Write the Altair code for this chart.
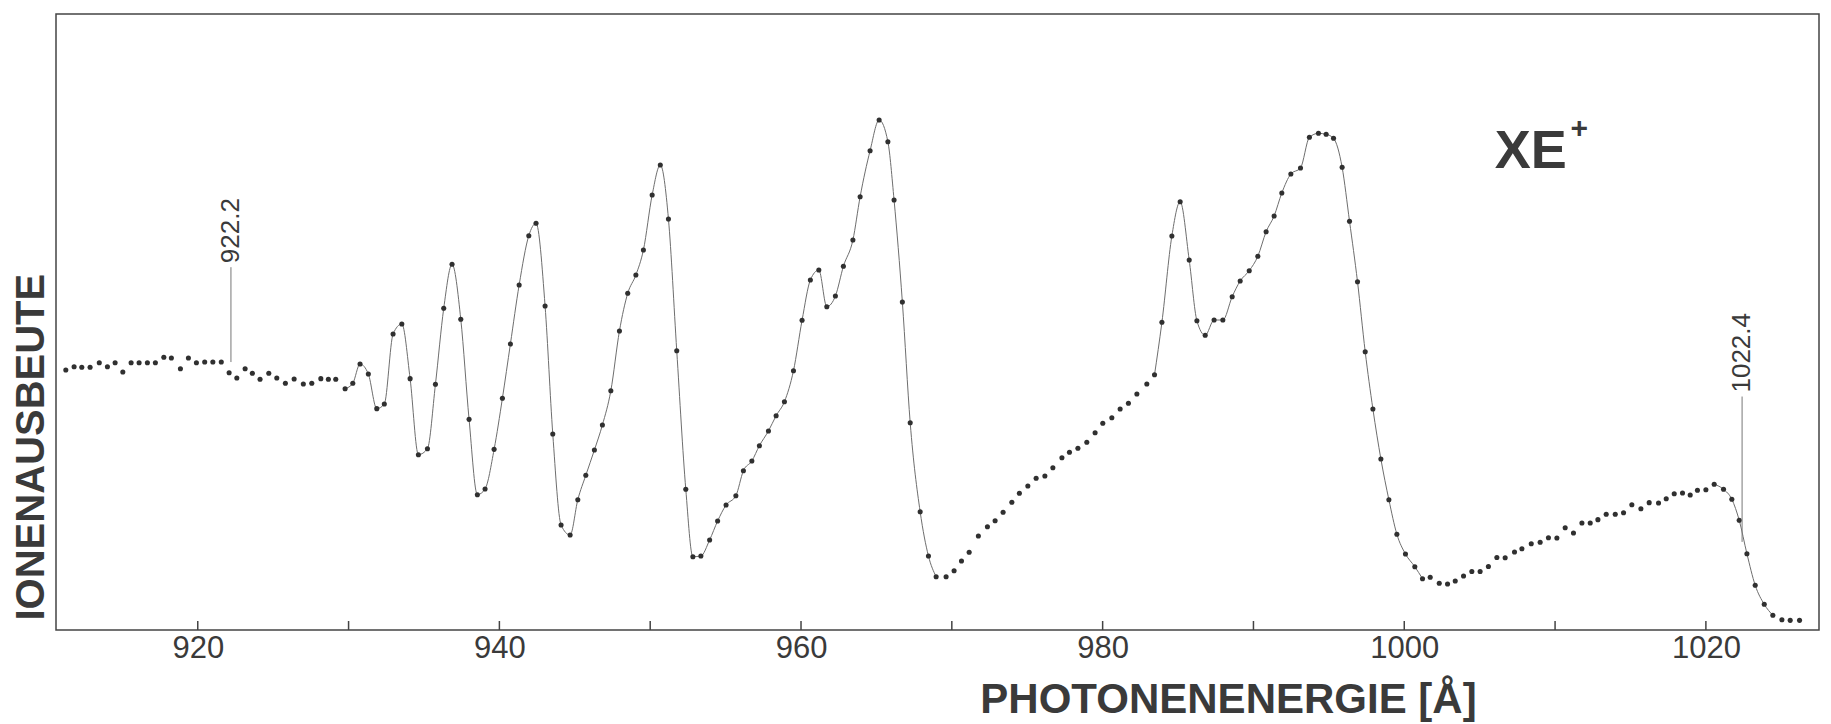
import altair as alt
import pandas as pd

wavelength = [
    911.25, 911.80, 912.31, 912.86, 913.47, 914.01, 914.52, 915.03, 915.58, 916.11,
    916.66, 917.19, 917.75, 918.25, 918.85, 919.38, 919.91, 920.46, 921.00, 921.56,
    922.08, 922.59, 923.14, 923.62, 924.13, 924.71, 925.24, 925.81, 926.39, 927.00,
    927.56, 928.16, 928.66, 929.15, 929.77, 930.28, 930.76, 931.31, 931.87, 932.37,
    932.95, 933.53, 934.08, 934.63, 935.23, 935.76, 936.31, 936.86, 937.44, 937.99,
    938.54, 939.05, 939.65, 940.20, 940.73, 941.31, 941.95, 942.43, 943.03, 943.54,
    944.09, 944.69, 945.20, 945.73, 946.30, 946.83, 947.39, 947.96, 948.51, 949.05,
    949.55, 950.13, 950.67, 951.21, 951.76, 952.36, 952.83, 953.36, 953.94, 954.47,
    955.03, 955.68, 956.18, 956.74, 957.24, 957.84, 958.35, 958.90, 959.50, 960.07,
    960.62, 961.18, 961.71, 962.28, 962.81, 963.44, 963.92, 964.58, 965.18, 965.76,
    966.17, 966.72, 967.24, 967.90, 968.45, 968.96, 969.62, 970.15, 970.64, 971.15,
    971.76, 972.36, 972.87, 973.40, 973.98, 974.48, 975.04, 975.59, 976.17, 976.70,
    977.30, 977.80, 978.36, 978.95, 979.50, 980.01, 980.61, 981.16, 981.71, 982.27,
    982.93, 983.44, 983.93, 984.59, 985.14, 985.74, 986.25, 986.80, 987.39, 987.97,
    988.59, 989.12, 989.72, 990.29, 990.84, 991.37, 991.88, 992.48, 993.12, 993.71,
    994.31, 994.82, 995.31, 995.88, 996.37, 996.90, 997.41, 997.92, 998.45, 998.98,
    999.51, 1000.08, 1000.70, 1001.21, 1001.72, 1002.32, 1002.87, 1003.38, 1003.93, 1004.48,
    1005.03, 1005.58, 1006.14, 1006.69, 1007.31, 1007.80, 1008.42, 1009.01, 1009.56, 1010.12,
    1010.67, 1011.22, 1011.78, 1012.33, 1012.84, 1013.39, 1013.99, 1014.54, 1015.09, 1015.69,
    1016.24, 1016.86, 1017.37, 1017.90, 1018.45, 1018.96, 1019.44, 1020.00, 1020.55, 1021.17,
    1021.72, 1022.21, 1022.72, 1023.27, 1023.87, 1024.44, 1025.04, 1025.59, 1026.21,
]

# Ion yield (arbitrary units, 0-100 of the frame height)
ion_yield = [
    42.21, 42.74, 42.65, 42.65, 43.39, 42.74, 43.39, 41.88, 43.39, 43.39,
    43.39, 43.39, 44.27, 44.16, 42.42, 44.16, 43.39, 43.51, 43.51, 43.51,
    41.77, 40.91, 42.42, 41.67, 40.70, 41.67, 40.91, 40.05, 40.75, 39.94,
    40.05, 40.80, 40.70, 40.70, 39.17, 40.05, 43.18, 41.56, 35.93, 36.69,
    48.05, 49.68, 40.80, 28.46, 29.43, 39.89, 52.22, 59.37, 50.44, 34.20,
    21.96, 22.89, 29.33, 37.61, 46.43, 56.01, 64.01, 66.02, 52.60, 31.82,
    17.05, 15.42, 21.15, 25.11, 29.22, 33.28, 38.85, 48.54, 54.66, 57.63,
    61.69, 70.62, 75.49, 66.72, 45.34, 22.84, 11.90, 12.01, 14.61, 17.69,
    20.29, 21.80, 25.86, 27.44, 29.92, 32.31, 34.79, 37.06, 42.09, 50.28,
    56.82, 58.44, 52.48, 54.22, 59.04, 63.31, 70.34, 77.81, 82.79, 79.27,
    69.81, 53.25, 33.65, 19.20, 12.01, 8.65, 8.65, 9.63, 11.20, 12.61,
    15.26, 16.77, 17.74, 19.11, 20.73, 22.19, 23.38, 24.63, 25.00, 26.35,
    27.97, 28.85, 29.50, 30.47, 32.03, 33.56, 34.46, 35.88, 36.80, 38.31,
    39.94, 41.44, 49.95, 63.96, 69.53, 60.06, 50.21, 47.84, 50.32, 50.32,
    54.11, 56.66, 58.33, 60.67, 64.66, 67.21, 70.94, 74.03, 75.00, 79.98,
    80.63, 80.47, 79.82, 75.11, 66.35, 56.54, 45.18, 35.88, 27.76, 21.15,
    15.54, 12.34, 10.28, 8.33, 8.56, 7.58, 7.47, 7.95, 8.77, 9.50,
    9.50, 10.31, 11.77, 11.74, 12.66, 13.20, 14.01, 14.24, 14.98, 14.94,
    16.61, 15.75, 17.37, 17.37, 17.91, 18.78, 18.78, 19.04, 20.34, 19.69,
    20.67, 20.62, 21.31, 22.13, 22.24, 21.92, 22.68, 22.78, 23.65, 22.84,
    21.22, 17.81, 12.39, 7.26, 4.17, 2.39, 1.67, 1.57, 1.57,
]

# Wavelength ranges where the hand-drawn curve joins the points
line_ranges = [(929.7, 969.0), (983.4, 1001.3), (1020.5, 1024.5)]

x_ticks = [920, 930, 940, 950, 960, 970, 980, 990, 1000, 1010, 1020]
x_labels = [920, 940, 960, 980, 1000, 1020]

# Marked wavelengths: position, line bottom/top (yield units), label
marker_wl = [922.2, 1022.4]
marker_lo = [43.5, 14.3]
marker_hi = [58.9, 37.9]
marker_text = ["922.2", "1022.4"]

# Species label
species_wl = [1006.0]
species_y = [75.0]
species_text = ["XE"]
charge_wl = [1011.6]
charge_y = [81.4]
charge_text = ["+"]

assert len(wavelength) == len(ion_yield)

df = pd.DataFrame({"wl": wavelength, "y": ion_yield})
parts = []
for i, (a, b) in enumerate(line_ranges):
    sub = df[(df.wl >= a) & (df.wl <= b)].copy()
    sub["seg"] = i
    parts.append(sub)
line_df = pd.concat(parts, ignore_index=True)

markers = pd.DataFrame({"wl": marker_wl, "lo": marker_lo, "hi": marker_hi, "label": marker_text})
species = pd.DataFrame({"wl": species_wl, "y": species_y, "label": species_text})
charge = pd.DataFrame({"wl": charge_wl, "y": charge_y, "label": charge_text})
ticks = pd.DataFrame({"t": x_ticks})

FONT = "Liberation Sans, Arial, sans-serif"
INK = "#3a3a3a"

xscale = alt.Scale(domain=[910.6, 1027.5], nice=False, zero=False)
yscale = alt.Scale(domain=[0, 100], nice=False, zero=False)

x_axis = alt.Axis(
    values=x_labels, format="d", ticks=False, domain=False, grid=False,
    labelFontSize=31, labelFont=FONT, labelColor=INK, labelPadding=3,
    title="PHOTONENENERGIE [Å]", titleFont=FONT, titleFontSize=42,
    titleFontWeight="bold", titleColor=INK, titleX=1172, titleY=82,
    titleAlign="center", titleBaseline="alphabetic",
)
y_axis = alt.Axis(
    labels=False, ticks=False, domain=False, grid=False,
    title="IONENAUSBEUTE", titleFont=FONT, titleFontSize=40,
    titleFontWeight="bold", titleColor=INK, titleAngle=270,
    titleAlign="left", titleBaseline="alphabetic", titleX=-13, titleY=606,
)


def X(field):
    return alt.X(field, type="quantitative", scale=xscale, axis=x_axis)


def Y(field):
    return alt.Y(field, type="quantitative", scale=yscale, axis=y_axis)


curve = alt.Chart(line_df).mark_line(
    color="#6e6e6e", strokeWidth=1.0, interpolate="monotone"
).encode(x=X("wl"), y=Y("y"), detail="seg:N")

points = alt.Chart(df).mark_circle(size=26, color="#303030", opacity=1).encode(
    x=X("wl"), y=Y("y")
)

tick_marks = alt.Chart(ticks).mark_rule(color="#444444", strokeWidth=1.5).encode(
    x=X("t"), y=alt.value(616), y2=alt.value(607)
)

marker_rules = alt.Chart(markers).mark_rule(color="#777777", strokeWidth=1).encode(
    x=X("wl"), y=Y("lo"), y2="hi:Q"
)

marker_labels = alt.Chart(markers).mark_text(
    angle=270, align="left", baseline="middle", dx=4,
    fontSize=26, font=FONT, color=INK,
).encode(x=X("wl"), y=Y("hi"), text="label:N")

species_label = alt.Chart(species).mark_text(
    align="left", baseline="alphabetic", fontSize=54, fontWeight="bold",
    font=FONT, color=INK,
).encode(x=X("wl"), y=Y("y"), text="label:N")

charge_label = alt.Chart(charge).mark_text(
    align="center", baseline="middle", fontSize=30, fontWeight="bold",
    font=FONT, color=INK,
).encode(x=X("wl"), y=Y("y"), text="label:N")

chart = alt.layer(
    curve, points, tick_marks, marker_rules, marker_labels, species_label, charge_label
).properties(
    width=1763,
    height=616,
    autosize=alt.AutoSizeParams(type="none"),
    padding={"left": 56, "top": 14, "right": 12, "bottom": 94},
    background="white",
).configure_view(
    stroke="#444444", strokeWidth=1.5
)

chart.save("out.html", embed_options={"renderer": "svg", "actions": False})
